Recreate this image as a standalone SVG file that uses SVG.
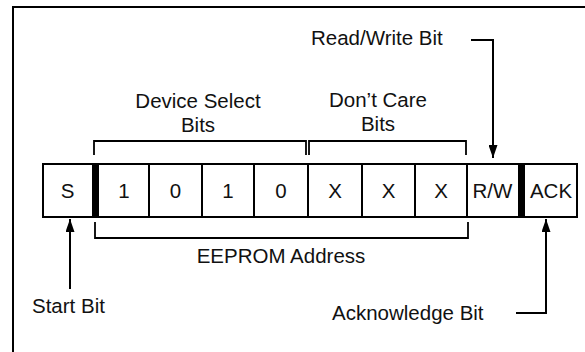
<svg xmlns="http://www.w3.org/2000/svg" width="585" height="352" viewBox="0 0 585 352">
<defs>
<style>
text{font-family:"Liberation Sans",Arial,sans-serif;font-size:20.5px;fill:#111;}
.c{text-anchor:middle;}
.ln{fill:none;stroke:#000;stroke-width:2;}
.br{fill:none;stroke:#000;stroke-width:1.8;}
.bar{fill:#000;}
</style>
<marker id="ah" markerWidth="14" markerHeight="9" refX="13" refY="4.5" orient="auto" markerUnits="userSpaceOnUse"><path d="M0,0 L13,4.5 L0,9 z" fill="#000"/></marker>
</defs>
<rect width="585" height="352" fill="#fff"/>
<path class="ln" d="M13,352 V7 H585" stroke-width="2.2"/>

<g id="register">
<rect class="ln" x="43" y="164" width="534" height="53"/>
<path class="ln" d="M149,164 V217 M202,164 V217 M254,164 V217 M308,164 V217 M362,164 V217 M415,164 V217 M467,164 V217"/>
<rect class="bar" x="92" y="164" width="7" height="53"/>
<rect class="bar" x="518" y="164" width="7" height="53"/>
</g>
<g id="cell-s"><text class="c" x="67.5" y="198">S</text></g>
<g id="cell-b6"><text class="c" x="124" y="198">1</text></g>
<g id="cell-b5"><text class="c" x="175.5" y="198">0</text></g>
<g id="cell-b4"><text class="c" x="228" y="198">1</text></g>
<g id="cell-b3"><text class="c" x="281" y="198">0</text></g>
<g id="cell-x1"><text class="c" x="335" y="198">X</text></g>
<g id="cell-x2"><text class="c" x="388.5" y="198">X</text></g>
<g id="cell-x3"><text class="c" x="441" y="198">X</text></g>
<g id="cell-rw"><text class="c" x="492.5" y="198">R/W</text></g>
<g id="cell-ack"><text class="c" x="551" y="198">ACK</text></g>

<g id="device-select"><text class="c" x="198" y="108">Device Select</text><text class="c" x="198" y="132">Bits</text></g>
<g id="dont-care"><text class="c" x="378" y="107">Don’t Care</text><text class="c" x="378" y="131">Bits</text></g>
<g id="rw-label"><text x="311" y="45">Read/Write Bit</text></g>
<g id="eeprom-label"><text class="c" x="281" y="263">EEPROM Address</text></g>
<g id="start-label"><text x="32" y="313">Start Bit</text></g>
<g id="ack-label"><text x="332" y="320">Acknowledge Bit</text></g>

<g id="connectors">
<path class="br" d="M94,155 V141 H306 V155"/>
<path class="br" d="M309,155 V141 H466 V155"/>
<path class="br" d="M95,222 V238 H468 V222"/>
<path class="ln" d="M471,40 H493 V158" marker-end="url(#ah)"/>
<path class="ln" d="M516,313 H546 V219" marker-end="url(#ah)"/>
<path class="ln" d="M70,289 V219" marker-end="url(#ah)"/>
</g>
</svg>
